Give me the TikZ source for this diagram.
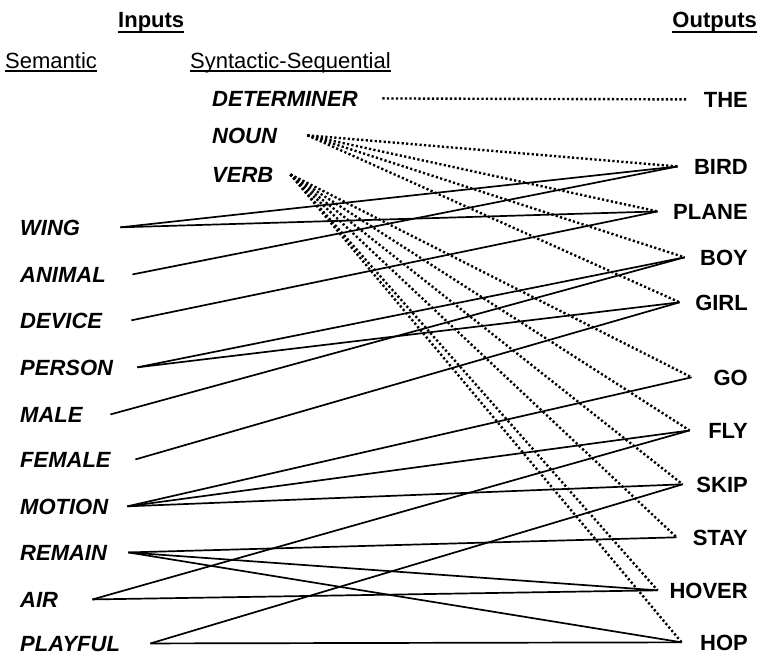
\documentclass[tikz,border=0pt]{standalone}
\usepackage{fontspec}
\setsansfont{Liberation Sans}
\usepackage{tikz}
\newcommand{\ulbox}[2][-3.7pt]{\setbox0\hbox{#2}\rlap{\rule[#1]{\wd0}{1.4pt}}\box0}
\tikzset{
  txt/.style={inner sep=0pt, font=\sffamily\fontsize{22}{26}\selectfont},
  heading/.style={txt, font=\sffamily\bfseries\fontsize{22}{26}\selectfont, anchor=base west},
  subheading/.style={txt, anchor=base west},
  inword/.style={txt, font=\sffamily\bfseries\itshape\fontsize{22}{26}\selectfont,
    anchor=base west, align=left, text depth=0pt},
  outword/.style={txt, font=\sffamily\bfseries\fontsize{22}{26}\selectfont,
    anchor=base east, align=right, text depth=0pt},
  link/.style={line width=1.7pt, draw=black},
  cue/.style={line width=2.4pt, draw=black, dash pattern=on 2.2pt off 2.3pt}
}
\begin{document}
\begin{tikzpicture}[x=1pt, y=-1pt]
\useasboundingbox (0,0) rectangle (760,656);

\node[heading] (inputs) at (118,27) {\ulbox[-5.5pt]{Inputs}};
\node[heading, anchor=base east] (outputs) at (757,27) {\ulbox[-5.5pt]{Outputs}};
\node[subheading] (semantic) at (5,68) {\ulbox{Semantic}};
\node[subheading] (syntactic) at (190,68) {\ulbox{Syntactic-Sequential}};

% syntactic-sequential units
\node[inword, text width=170pt] (det) at (212,106) {DETERMINER};
\node[inword, text width=95pt] (noun) at (212,143) {NOUN};
\node[inword, text width=78pt] (verb) at (212,182) {VERB};

% semantic units
\foreach \nm/\txt/\w/\y in {wing/WING/100/235, animal/ANIMAL/112/282,
    device/DEVICE/111/328, person/PERSON/117/375, male/MALE/90/422,
    female/FEMALE/115/467, motion/MOTION/107/514, remain/REMAIN/108/560,
    air/AIR/72/607, playful/PLAYFUL/130/651}
  \node[inword, text width=\w pt] (\nm) at (20,\y) {\txt};

% output units
\foreach \nm/\txt/\w/\y in {the/THE/60/107, bird/BIRD/70/174, plane/PLANE/90/219,
    boy/BOY/63/265, girl/GIRL/68/310, go/GO/56/385, fly/FLY/58/438,
    skip/SKIP/65/492, stay/STAY/71/545, hover/HOVER/90/598, hop/HOP/66/650}
  \node[outword, text width=\w pt] (\nm) at (748,\y) {\txt};

\draw[cue] (det.east) -- (the.west);
\foreach \b in {bird,plane,boy,girl}
  \draw[cue] (noun.east) -- (\b.west);
\foreach \b in {go,fly,skip,stay,hover,hop}
  \draw[cue] (verb.east) -- (\b.west);

\foreach \a/\b in {wing/bird, wing/plane, animal/bird, device/plane,
    person/boy, person/girl, male/boy, female/girl,
    motion/go, motion/fly, motion/skip, remain/stay, remain/hover, remain/hop,
    air/fly, air/hover, playful/skip, playful/hop}
  \draw[link] (\a.east) -- (\b.west);

\end{tikzpicture}
\end{document}
